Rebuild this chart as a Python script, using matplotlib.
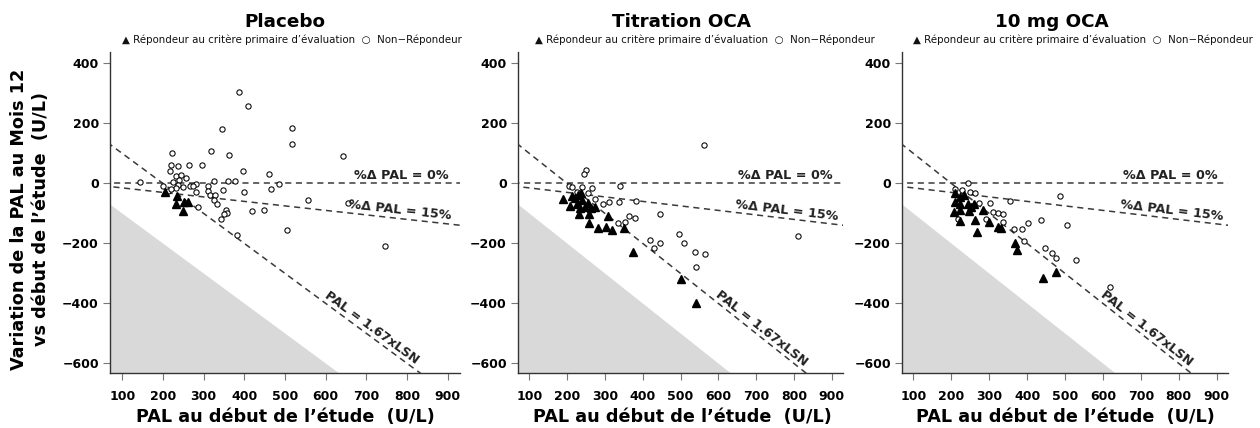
import numpy as np
import matplotlib
matplotlib.use("Agg")
import matplotlib.pyplot as plt

plt.rcParams['font.family'] = ['DejaVu Sans']

# ---- data (baseline PAL, change at month 12) ----
titles = ["Placebo", "Titration OCA", "10 mg OCA"]

placebo_nr_x = [386, 408, 346, 516, 518, 643, 222, 318, 362, 221, 236, 263, 297, 217, 398,
                460, 232, 245, 257, 239, 224, 144, 325, 359, 378, 486, 200, 236, 267, 281,
                274, 311, 233, 348, 400, 465, 281, 212, 311, 315, 329, 326, 557, 656, 332,
                355, 357, 349, 419, 449, 342, 286, 381, 506, 746, 221, 249]
placebo_nr_y = [306, 258, 183, 186, 132, 90, 103, 107, 96, 61, 58, 61, 62, 42, 42,
                32, 24, 27, 19, 13, 4, 4, 7, 9, 9, -1, -9, -6, -8, -3,
                -9, -9, -14, -22, -27, -20, -29, -26, -24, -39, -38, -56, -54, -66, -70,
                -87, -98, -102, -91, -90, -117, -79, -171, -154, -207, -17, -11]
placebo_r_x = [204, 235, 231, 253, 261, 250]
placebo_r_y = [-30, -42, -67, -61, -63, -91]

titr_nr_x = [563, 249, 245, 205, 212, 239, 267, 341, 255, 273, 296, 311, 338, 382, 446,
             364, 380, 352, 335, 420, 445, 430, 496, 510, 539, 566, 540, 811, 225]
titr_nr_y = [127, 44, 30, -8, -11, -11, -14, -7, -33, -53, -67, -62, -62, -59, -101,
             -109, -114, -130, -132, -189, -200, -214, -167, -198, -229, -234, -278, -174, -28]
titr_r_x = [188, 212, 221, 230, 237, 208, 225, 239, 247, 254, 232, 235, 259, 262, 274,
            259, 281, 309, 304, 318, 350, 373, 502, 541]
titr_r_y = [-53, -42, -48, -39, -33, -76, -69, -56, -78, -64, -102, -83, -102, -81, -78,
            -133, -147, -108, -144, -156, -150, -228, -320, -398]

mg10_nr_x = [244, 209, 229, 250, 273, 301, 354, 486, 310, 323, 336, 292, 336, 218, 365,
             386, 402, 436, 504, 391, 446, 467, 476, 530, 618, 262]
mg10_nr_y = [0, -20, -22, -29, -64, -64, -58, -42, -94, -100, -103, -117, -129, -120, -152,
             -151, -133, -123, -138, -191, -216, -231, -247, -256, -344, -31]
mg10_r_x = [211, 222, 233, 211, 222, 206, 224, 244, 253, 259, 248, 262, 224, 284, 299,
            268, 323, 332, 367, 373, 442, 477]
mg10_r_y = [-33, -44, -39, -61, -67, -94, -89, -67, -78, -67, -92, -122, -124, -89, -130,
            -161, -144, -150, -200, -222, -314, -294]

panels = [
    (placebo_nr_x, placebo_nr_y, placebo_r_x, placebo_r_y),
    (titr_nr_x, titr_nr_y, titr_r_x, titr_r_y),
    (mg10_nr_x, mg10_nr_y, mg10_r_x, mg10_r_y),
]

xticks = [100, 200, 300, 400, 500, 600, 700, 800, 900]
yticks = [-600, -400, -200, 0, 200, 400]
uln_limit = 200      # 1.67 x LSN
pct_drop = 0.15

# ---- layout (pixels) ----
W, H = 1260, 428
ax_px = [(110, 460), (518, 843), (902, 1228)]
ax_top, ax_bot = 52, 373
title_x = [285, 681, 1052]
legend_x = [292, 705, 1083]
xlabel_x = [285, 682, 1065]

fig = plt.figure(figsize=(W / 100, H / 100), dpi=100)
line_col = "#3a3a3a"

for i, (nx, ny, rx, ry) in enumerate(panels):
    l, r = ax_px[i]
    ax = fig.add_axes([l / W, 1 - ax_bot / H, (r - l) / W, (ax_bot - ax_top) / H])
    ax.set_xlim(70, 930)
    ax.set_ylim(-632, 438)

    xs = np.array([0, 1000])
    ax.fill_between(xs, -xs, -2000, color="#d9d9d9", lw=0, zorder=0)
    ax.plot(xs, 0 * xs, ls=(0, (4, 3)), color=line_col, lw=1.1, zorder=1)
    ax.plot(xs, -pct_drop * xs, ls=(0, (4, 3)), color=line_col, lw=1.1, zorder=1)
    ax.plot(xs, uln_limit - xs, ls=(0, (4, 3)), color=line_col, lw=1.1, zorder=1)

    ax.plot(nx, ny, "o", ms=3.8, mfc="white", mec="black", mew=0.75, zorder=3)
    ax.plot(rx, ry, "^", ms=5.8, color="black", mec="black", zorder=4)

    for s in ["top", "right"]:
        ax.spines[s].set_visible(False)
    for s in ["left", "bottom"]:
        ax.spines[s].set_color("#333333")
        ax.spines[s].set_linewidth(1.0)
    ax.set_xticks(xticks)
    ax.set_yticks(yticks)
    ax.tick_params(axis="both", direction="out", length=5, width=0.8, color="#777777",
                   labelsize=9)
    ax.tick_params(axis="x", pad=7)
    ax.tick_params(axis="y", pad=3)
    for lab in ax.get_xticklabels() + ax.get_yticklabels():
        lab.set_fontweight("bold")

    # reference line labels
    ax.text(903, 6, "%Δ PAL = 0%", ha="right", va="bottom", fontsize=9.2,
            fontweight="bold", color="#222222", zorder=5)
    a15 = ax.transData.transform_angles(np.array([np.degrees(np.arctan(-pct_drop))]),
                                        np.array([[780, -117]]))[0]
    ax.text(782, -90, "%Δ PAL = 15%", ha="center", va="center", rotation=a15,
            rotation_mode="anchor", fontsize=9.2, fontweight="bold", color="#222222", zorder=5)
    a167 = ax.transData.transform_angles(np.array([-45.0]), np.array([[710, -510]]))[0]
    ax.text(714, -482, "PAL = 1.67xLSN", ha="center", va="center", rotation=a167,
            rotation_mode="anchor", fontsize=9.2, fontweight="bold", color="#222222", zorder=5)

    fig.text(title_x[i] / W, 1 - 22 / H, titles[i], ha="center", va="center",
             fontsize=13.2, fontweight="bold")
    fig.text(legend_x[i] / W, 1 - 40 / H,
             "▲ Répondeur au critère primaire d’évaluation  ○  Non−Répondeur",
             ha="center", va="center", fontsize=7.4, color="#111111")
    fig.text(xlabel_x[i] / W, 1 - 422 / H, "PAL au début de l’étude  (U/L)",
             ha="center", va="baseline", fontsize=12.7, fontweight="bold")

fig.text(30 / W, 1 - 219 / H, "Variation de la PAL au Mois 12\nvs début de l’étude  (U/L)",
         ha="center", va="center", rotation=90, fontsize=12.7, fontweight="bold",
         linespacing=1.35)

fig.savefig("out.png", dpi=100)
